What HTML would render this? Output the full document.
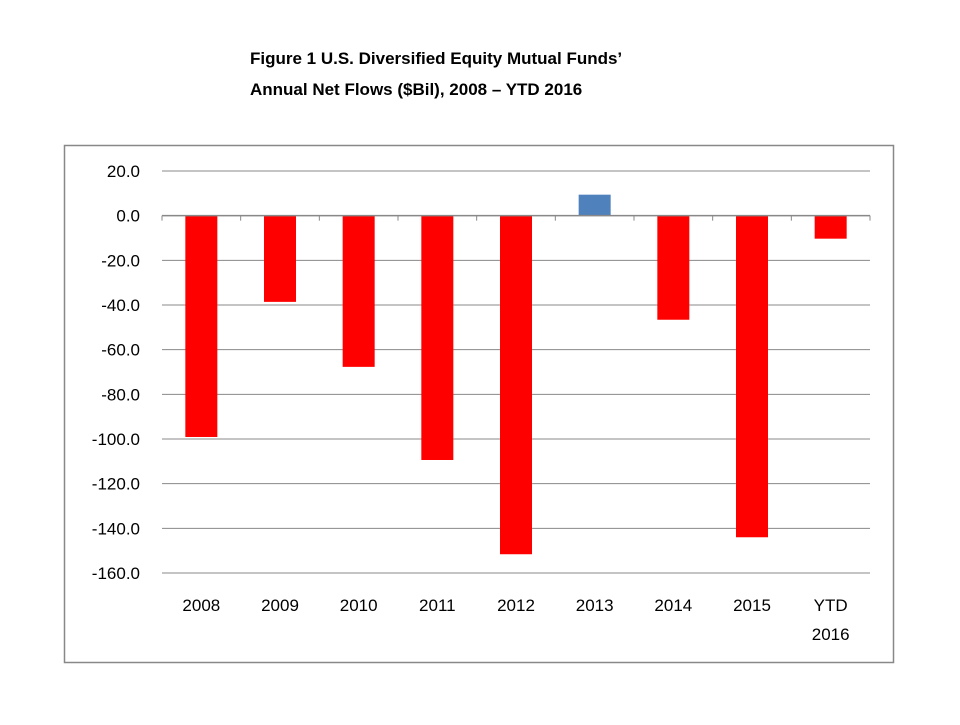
<!DOCTYPE html>
<html><head><meta charset="utf-8"><style>
body{margin:0;background:#fff;width:960px;height:720px;overflow:hidden;font-family:"Liberation Sans",sans-serif}
</style></head><body>
<svg width="960" height="720" xmlns="http://www.w3.org/2000/svg">
<text x="250" y="64" font-size="17" font-weight="bold" fill="#000">Figure 1  U.S. Diversified Equity Mutual Funds’</text>
<text x="250" y="95" font-size="17" font-weight="bold" fill="#000">Annual Net Flows ($Bil), 2008 – YTD 2016</text>
<rect x="64.5" y="145.5" width="829" height="517" fill="none" stroke="#888" stroke-width="1.5"/>
<g id="grid"></g><g id="bars"></g><g id="axis"></g>
</svg>
<script>
const categories=["2008","2009","2010","2011","2012","2013","2014","2015","YTD 2016"];
const values=[-99.1,-38.6,-67.7,-109.4,-151.6,9.4,-46.6,-144,-10.3];
const ticks=[20,0,-20,-40,-60,-80,-100,-120,-140,-160];
const ns="http://www.w3.org/2000/svg";
const x0=162,x1=870,yTop=171,yBot=573,vMax=20,vMin=-160;
const y=v=>yTop+(vMax-v)/(vMax-vMin)*(yBot-yTop);
const bw=(x1-x0)/categories.length;
function mk(t,a,p){const e=document.createElementNS(ns,t);for(const k in a)e.setAttribute(k,a[k]);p.appendChild(e);return e;}
const G=document.getElementById('grid'),B=document.getElementById('bars'),A=document.getElementById('axis');
ticks.forEach(t=>{
  const l=mk('line',{x1:x0,x2:x1,y1:y(t),y2:y(t),stroke:'#888','stroke-width':1},G);
  
  
  const tx=mk('text',{x:140,y:y(t)+6,'text-anchor':'end','font-size':17,fill:'#000'},A);
  tx.textContent=t.toFixed(1);
  
  
});
const ax=mk('line',{x1:x0,x2:x1,y1:y(0),y2:y(0),stroke:'#888','stroke-width':1.5},A);


categories.forEach((c,i)=>{
  const cx=x0+bw*(i+0.5),v=values[i];
  const r=mk('rect',{x:cx-16,y:Math.min(y(v),y(0)),width:32,height:Math.abs(y(v)-y(0)),fill:v>=0?'#4f81bd':'#ff0000'},B);
  
  
  const tk=mk('line',{x1:x0+bw*i,x2:x0+bw*i,y1:y(0),y2:y(0)+5,stroke:'#888'},A);
  
  
  c.split(' ').forEach((p,j)=>{
    const t=mk('text',{x:cx,y:611+j*29,'text-anchor':'middle','font-size':17,fill:'#000'},A);
    t.textContent=p;
    
    
  });
});
const te=mk('line',{x1:x1,x2:x1,y1:y(0),y2:y(0)+5,stroke:'#888'},A);


</script>
</body></html>
